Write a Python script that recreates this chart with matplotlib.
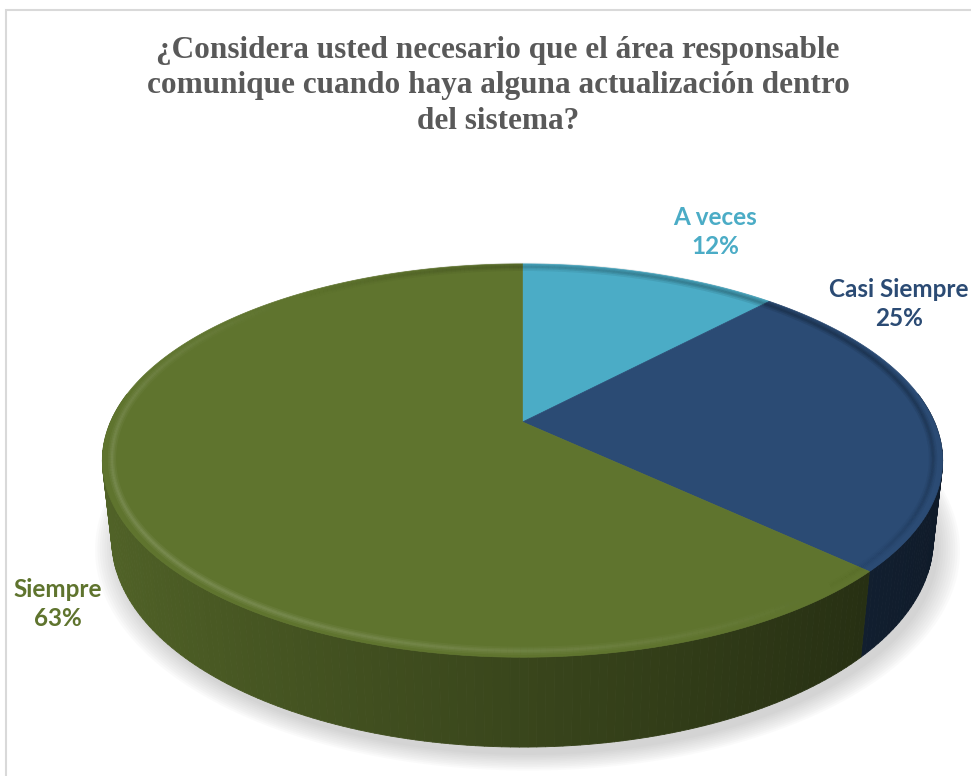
import matplotlib
matplotlib.use('Agg')
import numpy as np
import matplotlib.pyplot as plt
from matplotlib.patches import Polygon, Rectangle
from matplotlib.collections import PolyCollection, LineCollection
from matplotlib.colors import to_rgb

# ---------------- data ----------------
categories = ['A veces', 'Casi Siempre', 'Siempre']
values = [12, 25, 63]
pct_labels = ['12%', '25%', '63%']
colors = ['#4BACC6', '#2B4B74', '#5F742E']
title = ('¿Considera usted necesario que el área responsable\n'
         'comunique cuando haya alguna actualización dentro\n'
         'del sistema?')

# ---------------- 3D look parameters ----------------
SIN_E, COS_E, DIST, DEPTH = 0.459, 0.888, 4.53, 0.217
W, H = 971, 776
CX, CY, SCALE = 522.5, 422.0, 412.0   # pixel centre of pie, pixels per radius


def project(x, y, z):
    w = 1 + (y * COS_E - z * SIN_E) / DIST
    return x / w, (y * SIN_E + z * COS_E) / w


# wedge angles from matplotlib's own pie layout
hfig, hax = plt.subplots()
wedges, _ = hax.pie(values, startangle=90, counterclock=False)
spans = [(w.theta1, w.theta2) for w in wedges]
plt.close(hfig)

fig = plt.figure(figsize=(W / 100, H / 100), dpi=100)
ax = fig.add_axes([0, 0, 1, 1])
ax.set_xlim(-CX / SCALE, (W - CX) / SCALE)
ax.set_ylim(-(H - CY) / SCALE, CY / SCALE)
ax.set_aspect('auto')
ax.axis('off')

# chart border
fig.patches.append(Rectangle((5.5 / W, -0.05), 1.2, 1 - 10.5 / H + 0.05,
                             transform=fig.transFigure, fill=False,
                             edgecolor='#D9D9D9', linewidth=1.5, zorder=0))

# soft shadow under the pie
tt = np.linspace(0, 2 * np.pi, 400)
for k, r in enumerate(np.linspace(1.0, 1.05, 10)):
    sx, sy = project(r * np.cos(tt) + 0.012, r * np.sin(tt) - 0.01, -DEPTH - 0.012)
    ax.add_patch(Polygon(np.column_stack([sx, sy]), closed=True,
                         facecolor='#808080', edgecolor='none', alpha=0.035, zorder=1))

# side walls, thin strips drawn far-to-near
strips, strip_cols, depths = [], [], []
for (t1, t2), col in zip(spans, colors):
    base = np.array(to_rgb(col))
    n = max(2, int(abs(t2 - t1)))
    angs = np.radians(np.linspace(t1, t2, n + 1))
    for a0, a1 in zip(angs[:-1], angs[1:]):
        am = 0.5 * (a0 + a1)
        if np.sin(am) > 0.15:
            continue
        xa, ya = np.cos([a0, a1]), np.sin([a0, a1])
        top = project(xa, ya, 0.0)
        bot = project(xa, ya, -DEPTH)
        poly = [(top[0][0], top[1][0]), (top[0][1], top[1][1]),
                (bot[0][1], bot[1][1]), (bot[0][0], bot[1][0])]
        shade = np.clip(0.60 - 0.26 * np.cos(am), 0.3, 0.9)
        strips.append(poly)
        strip_cols.append(tuple(base * shade))
        depths.append(np.sin(am))
order = np.argsort(depths)[::-1]
ax.add_collection(PolyCollection([strips[i] for i in order],
                                 facecolors=[strip_cols[i] for i in order],
                                 edgecolors=[strip_cols[i] for i in order],
                                 linewidths=0.6, zorder=2))

# top faces
for (t1, t2), col in zip(spans, colors):
    angs = np.radians(np.linspace(t1, t2, 200))
    sx, sy = project(np.cos(angs), np.sin(angs), 0.0)
    cx0, cy0 = project(0.0, 0.0, 0.0)
    pts = np.vstack([[cx0, cy0], np.column_stack([sx, sy])])
    ax.add_patch(Polygon(pts, closed=True, facecolor=col, edgecolor=col,
                         linewidth=0.5, zorder=3))

# soft bevel highlight / shade along the rim
for (t1, t2), col in zip(spans, colors):
    base = np.array(to_rgb(col))
    angs = np.radians(np.linspace(t1, t2, 300))
    for r, lw, strength in [(0.978, 6.0, 0.06), (0.978, 3.5, 0.08), (0.978, 1.5, 0.08)]:
        sx, sy = project(r * np.cos(angs), r * np.sin(angs), 0.0)
        pts = np.column_stack([sx, sy])
        segs = np.stack([pts[:-1], pts[1:]], axis=1)
        am = 0.5 * (angs[:-1] + angs[1:])
        h = np.clip(-np.cos(am) * 0.6 - np.sin(am) * 0.5, -1, 1)
        seg_cols = []
        for hv in h:
            if hv >= 0:
                c = np.append(np.clip(base + (1 - base) * 0.5, 0, 1), strength * 2 * hv)
            else:
                c = np.append(base * 0.3, strength * 2.5 * (-hv))
            seg_cols.append(tuple(np.clip(c, 0, 1)))
        ax.add_collection(LineCollection(segs, colors=seg_cols, linewidths=lw,
                                         zorder=4, capstyle='butt'))

# data labels
label_pos = [(715, 232), (899, 304), (58, 604)]
for (px, py), cat, pct, col in zip(label_pos, categories, pct_labels, colors):
    fig.text(px / W, 1 - py / H, f'{cat}\n{pct}', ha='center', va='center',
             color=col, fontsize=17.5, fontweight='bold', family='Lato',
             linespacing=1.33)

# title
fig.text(498 / W, 1 - 86 / H, title, ha='center', va='center',
         color='#595959', fontsize=22.5, fontweight='bold',
         family='Liberation Serif', linespacing=1.28)

fig.savefig('out.png', dpi=100)
